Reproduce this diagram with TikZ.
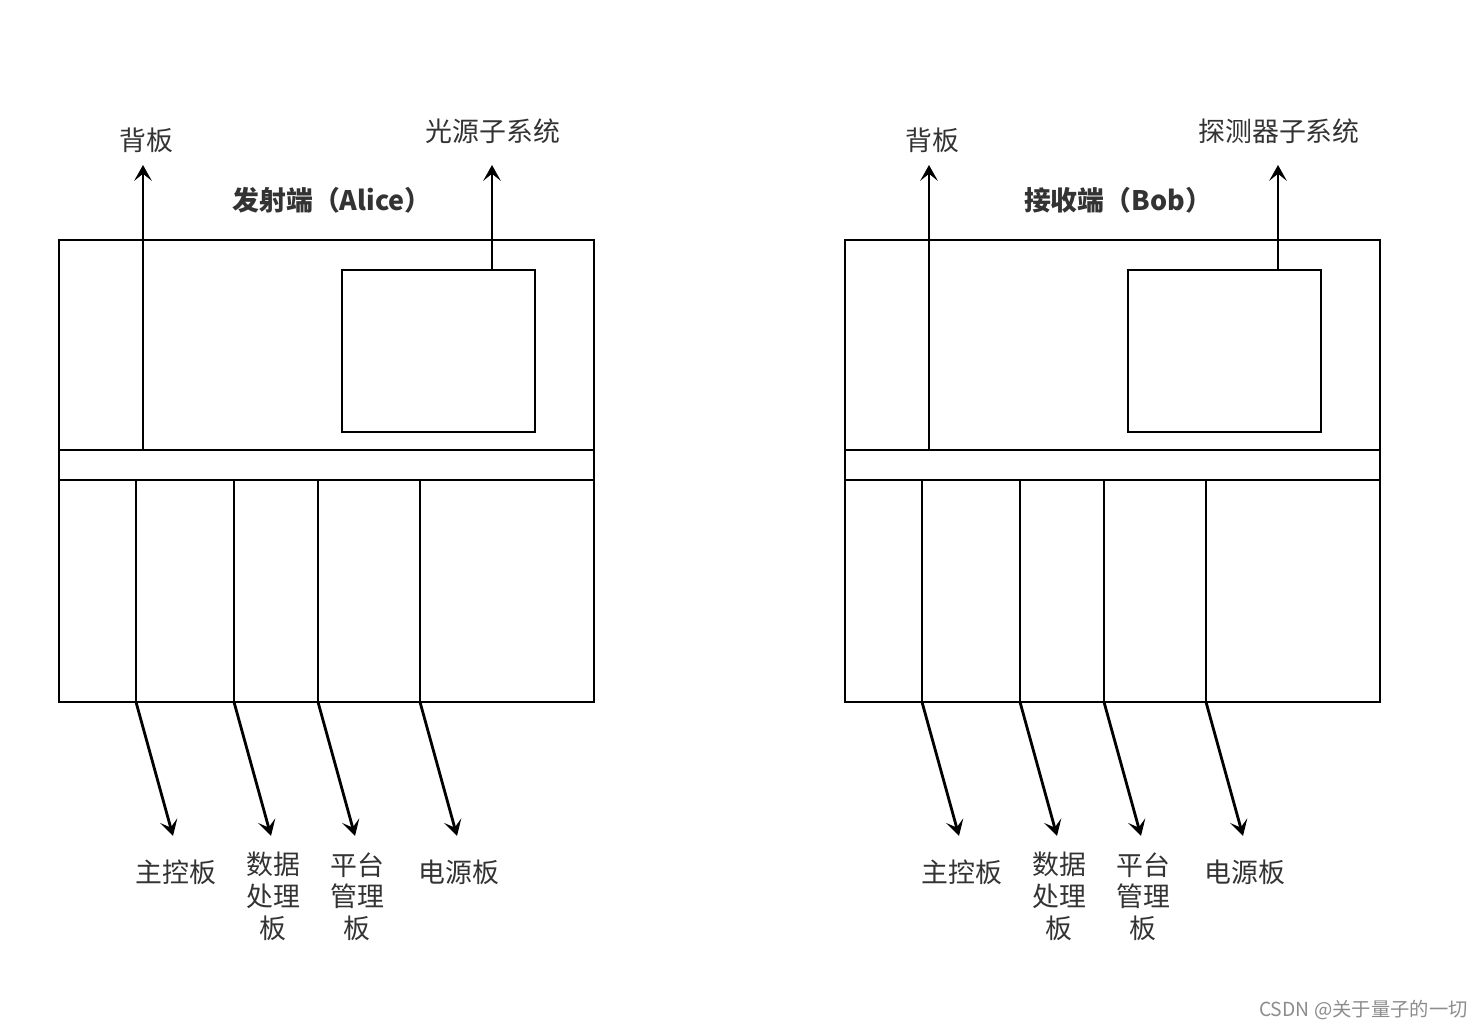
\documentclass[tikz,border=0pt]{standalone}
\usepackage{fontspec}
\setmainfont{Noto Sans CJK SC}
\usetikzlibrary{arrows.meta}

\begin{document}
\begin{tikzpicture}[
        x=0.02cm, y=-0.02cm,
        frame/.style={draw, line width=1.6pt},
        link/.style={line width=1.6pt, -{Stealth[length=9pt, width=10pt, inset=4pt]}},
        lbl/.style={font=\fontsize{15.3}{18}\selectfont, text=black!80, inner sep=0pt},
        board/.style={font=\fontsize{15.3}{18}\selectfont, text=black!80, inner sep=0pt, align=center, anchor=north},
        headline/.style={font=\fontsize{15.3}{18}\selectfont\bfseries, text=black!80, inner sep=0pt}
    ]

    \useasboundingbox (0,0) rectangle (1482,1030);

    \foreach \side/\dx/\name/\sub in {A/0/发射端（Alice）/光源子系统, B/786/接收端（Bob）/探测器子系统} {
        \begin{scope}[xshift=\dx*0.02cm]
            % chassis and backplane strip
            \draw[frame] (59,240) rectangle (594,702);
            \draw[frame] (59,450) -- (594,450);
            \draw[frame] (59,480) -- (594,480);
            \draw[frame] (342,270) rectangle (535,432);

            % slots
            \foreach \i/\sx in {1/136, 2/234, 3/318, 4/420} {
                \draw[frame] (\sx,480) -- (\sx,702);
                \coordinate (\side-slot\i) at (\sx,702);
                \coordinate (\side-tip\i) at (\sx+37,836);
            }

            \coordinate (\side-bp) at (143,450);
            \coordinate (\side-sub) at (492,270);

            \node[headline] (\side-title) at (332,200) {\name};
            \node[lbl] (\side-bplabel) at (146,140) {背板};
            \node[lbl] (\side-sublabel) at (493,131) {\sub};

            \node[lbl] (\side-main) at (176,872) {主控板};
            \node[board] (\side-data) at (273,852) {数据\\处理\\板};
            \node[board] (\side-mgmt) at (357,852) {平台\\管理\\板};
            \node[lbl] (\side-power) at (459,872) {电源板};

            \draw[link] (\side-bp) -- (143,165);
            \draw[link] (\side-sub) -- (492,165);
            \foreach \i in {1,...,4} {
                \draw[link] (\side-slot\i) -- (\side-tip\i);
            }
        \end{scope}
    }

    \node[anchor=east, text=black!45, font=\fontsize{11}{13}\selectfont, inner sep=0pt] (mark) at (1468,1010) {CSDN @关于量子的一切};

\end{tikzpicture}
\end{document}
